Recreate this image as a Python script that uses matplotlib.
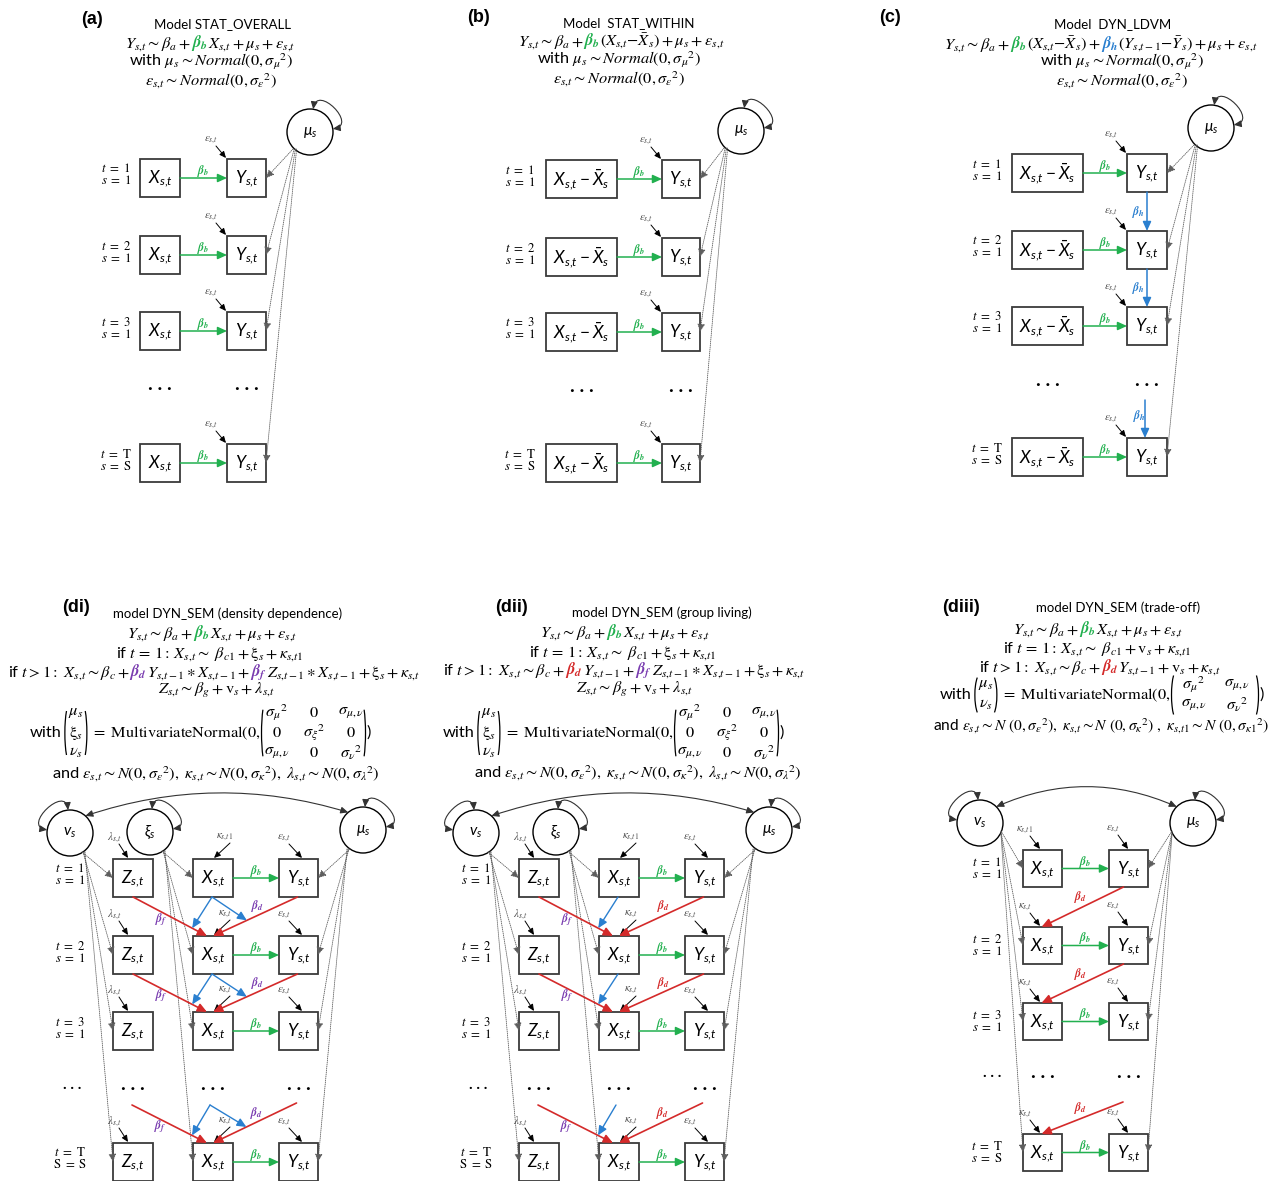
import math
import matplotlib
matplotlib.use("Agg")
import matplotlib.pyplot as plt
from matplotlib.patches import Rectangle, Circle, Arc, FancyArrowPatch
from matplotlib.path import Path

plt.rcParams["font.family"] = ["Lato", "DejaVu Sans"]
plt.rcParams["mathtext.fontset"] = "custom"
plt.rcParams["mathtext.rm"] = "Lato"
plt.rcParams["mathtext.it"] = "Lato:italic"
plt.rcParams["mathtext.bf"] = "Lato:bold"
plt.rcParams["mathtext.sf"] = "Lato"

# ---------------- text content ----------------
PANEL_TAGS = ["(a)", "(b)", "(c)", "(di)", "(dii)", "(diii)"]
MODEL_NAMES = ["Model STAT_OVERALL", "Model  STAT_WITHIN", "Model  DYN_LDVM",
               "model DYN_SEM (density dependence)", "model DYN_SEM (group living)",
               "model DYN_SEM (trade-off)"]
TIME_STEPS = ["1", "2", "3", "T"]
SITES = ["1", "1", "1", "S"]
SITES_SEM = ["1", "1", "1", "S"]

NODE_X = r"$X_{s{,}t}$"
NODE_XC = r"$X_{s{,}t} - \bar{X}_s$"
NODE_Y = r"$Y_{s{,}t}$"
NODE_Z = r"$Z_{s{,}t}$"
LAT_MU = r"$\mu_s$"
LAT_XI = r"$\xi_s$"
LAT_NU = r"$v_s$"
ERR_Y = r"$\varepsilon_{s{,}t}$"
ERR_X1 = r"$\kappa_{s{,}t1}$"
ERR_X = r"$\kappa_{s{,}t}$"
ERR_Z = r"$\lambda_{s{,}t}$"

B_B = r"$\mathbfit{\beta}_{\mathbfit{b}}$"
B_H = r"$\mathbfit{\beta}_{\mathbfit{h}}$"
B_D = r"$\mathbfit{\beta}_{\mathbfit{d}}$"
B_F = r"$\mathbfit{\beta}_{\mathbfit{f}}$"

K = "black"
GREEN = "#22b04f"
BLUE = "#2a7fcf"
RED = "#d42a2a"
PURPLE = "#7a3db0"
EDGE = "#3a3a3a"
GREY = "#505050"

Y_BASE = r"$Y_{s{,}t} \sim \beta_a + $"
NORM_MU = r"with $\mu_s{\sim}Normal(0, \sigma_{\mu}{}^{2})$"
NORM_EPS = r"$\varepsilon_{s{,}t}{\sim}Normal(0, \sigma_{\varepsilon}{}^{2})$"
EQ_A = [
    [(Y_BASE, K), (B_B, GREEN), (r"$X_{s{,}t} + \mu_s + \varepsilon_{s{,}t}$", K)],
    [(NORM_MU, K)],
    [(NORM_EPS, K)],
]
EQ_B = [
    [(Y_BASE, K), (B_B, GREEN), (r"$(X_{s{,}t}{-}\bar{X}_s) + \mu_s + \varepsilon_{s{,}t}$", K)],
    [(NORM_MU, K)],
    [(NORM_EPS, K)],
]
EQ_C = [
    [(Y_BASE, K), (B_B, GREEN), (r"$(X_{s{,}t}{-}\bar{X}_s) + $", K), (B_H, BLUE),
     (r"$(Y_{s{,}t-1}{-}\bar{Y}_s) + \mu_s + \varepsilon_{s{,}t}$", K)],
    [(NORM_MU, K)],
    [(NORM_EPS, K)],
]
EQ_Y = [(Y_BASE, K), (B_B, GREEN), (r"$X_{s{,}t} + \mu_s + \varepsilon_{s{,}t}$", K)]
EQ_DI = [
    EQ_Y,
    [(r"if $t\, =\, 1{:}\, X_{s{,}t}{\sim}\ \beta_{c1} + \mathrm{\xi}_s + \kappa_{s{,}t1}$", K)],
    [(r"if $t > 1{:}\ X_{s{,}t} \sim \beta_c + $", K), (B_D, PURPLE),
     (r"$Y_{s{,}t-1} \ast X_{s{,}t-1} + $", K), (B_F, PURPLE),
     (r"$Z_{s{,}t-1} \ast X_{s{,}t-1} + \mathrm{\xi}_s + \kappa_{s{,}t}$", K)],
    [(r"$Z_{s{,}t} \sim \beta_g + \mathrm{v}_s + \lambda_{s{,}t}$", K)],
]
EQ_DII = [
    EQ_Y,
    [(r"if $t\, =\, 1{:}\, X_{s{,}t}{\sim}\ \beta_{c1} + \mathrm{\xi}_s + \kappa_{s{,}t1}$", K)],
    [(r"if $t > 1{:}\ X_{s{,}t} \sim \beta_c + $", K), (B_D, RED),
     (r"$Y_{s{,}t-1} + $", K), (B_F, PURPLE),
     (r"$Z_{s{,}t-1} \ast X_{s{,}t-1} + \mathrm{\xi}_s + \kappa_{s{,}t}$", K)],
    [(r"$Z_{s{,}t} \sim \beta_g + \mathrm{v}_s + \lambda_{s{,}t}$", K)],
]
EQ_DIII = [
    EQ_Y,
    [(r"if $t\, =\, 1{:}\, X_{s{,}t}{\sim}\ \beta_{c1} + \mathrm{v}_s + \kappa_{s{,}t1}$", K)],
    [(r"if $t > 1{:}\ X_{s{,}t} \sim \beta_c + $", K), (B_D, RED),
     (r"$Y_{s{,}t-1} + \mathrm{v}_s + \kappa_{s{,}t}$", K)],
]
TAIL_DI = (r"and $\varepsilon_{s{,}t}{\sim}N(0, \sigma_{\varepsilon}{}^{2}),\ \kappa_{s{,}t}{\sim}N(0, "
           r"\sigma_{\kappa}{}^{2}),\ \lambda_{s{,}t}{\sim}N(0, \sigma_{\lambda}{}^{2})$")
TAIL_DIII = (r"and $\varepsilon_{s{,}t}{\sim}N\ (0, \sigma_{\varepsilon}{}^{2}),\ \kappa_{s{,}t}{\sim}N\ (0, "
             r"\sigma_{\kappa}{}^{2})\ ,\ \kappa_{s{,}t1}{\sim}N\ (0, \sigma_{\kappa 1}{}^{2})$")

VEC3 = [r"$\mu_s$", r"$\mathrm{\xi}_s$", r"$\nu_s$"]
MAT3 = [[r"$\sigma_{\mu}{}^{2}$", "$0$", r"$\sigma_{\mu,\nu}$"],
        ["$0$", r"$\sigma_{\xi}{}^{2}$", "$0$"],
        [r"$\sigma_{\mu,\nu}$", "$0$", r"$\sigma_{\nu}{}^{2}$"]]
VEC2 = [r"$\mu_s$", r"$\nu_s$"]
MAT2 = [[r"$\sigma_{\mu}{}^{2}$", r"$\sigma_{\mu,\nu}$"],
        [r"$\sigma_{\mu,\nu}$", r"$\sigma_{\nu}{}^{2}$"]]
MVN = r"$=\ \mathrm{MultivariateNormal}(0,$"

# ---------------- canvas ----------------
W, H = 1272, 1181
fig = plt.figure(figsize=(W / 100, H / 100), dpi=100)
ax = fig.add_axes([0, 0, 1, 1])
ax.set_xlim(0, W)
ax.set_ylim(H, 0)
ax.axis("off")
R = fig.canvas.get_renderer()

FS_EQ = 11.8
FS_TITLE = 9.5
FS_SMALL = 8
FS_BETA = 8.5
FS_ROW = 9.3


def txt(x, y, s, fs, color="k", ha="center", va="center", mf="custom", **kw):
    return ax.text(x, y, s, fontsize=fs, color=color, ha=ha, va=va,
                   math_fontfamily=mf, **kw)


def width(t):
    return t.get_window_extent(R).width


def rich(x, y, segs, fs=FS_EQ, align="center"):
    arts = [ax.text(0, y, s, fontsize=fs, color=c, ha="left", va="baseline",
                    math_fontfamily="stix") for s, c in segs]
    ws = [width(a) for a in arts]
    x0 = x - sum(ws) / 2 if align == "center" else x
    for a, w in zip(arts, ws):
        a.set_x(x0)
        x0 += w


def arrow(p0, p1, color="k", lw=0.9, ls="-", ms=10, hl=0.55, hw=0.25, style="-|>"):
    ax.add_patch(FancyArrowPatch(p0, p1, arrowstyle=f"{style},head_length={hl},head_width={hw}",
                                 mutation_scale=ms, color=color, lw=lw, linestyle=ls,
                                 shrinkA=0, shrinkB=0))


def dotted(p0, p1):
    arrow(p0, p1, color="#5e5e5e", lw=0.6, ls=(0, (1.0, 1.4)), ms=8, hl=0.6, hw=0.28)


def box(x0, x1, top, label, h=38, fs=12.5):
    ax.add_patch(Rectangle((x0, top), x1 - x0, h, fill=False, ec=EDGE, lw=1.3))
    txt((x0 + x1) / 2, top + h / 2 + 1, label, fs)


def latent(c, label, r=23):
    ax.add_patch(Circle(c, r, fill=False, ec="k", lw=1.0))
    txt(c[0], c[1], label, 11)


def on_circle(c, a, d):
    return (c[0] + d * math.cos(math.radians(a)), c[1] - d * math.sin(math.radians(a)))


def self_loop(c, a1, a2, r=23, k=26):
    p1, p2 = on_circle(c, a1, r), on_circle(c, a2, r)
    q1, q2 = on_circle(c, a1, r + k), on_circle(c, a2, r + k)
    path = Path([p1, q1, q2, p2], [Path.MOVETO, Path.CURVE4, Path.CURVE4, Path.CURVE4])
    ax.add_patch(FancyArrowPatch(path=path, arrowstyle="<|-|>,head_length=0.55,head_width=0.25",
                                 mutation_scale=8, color="#333333", lw=0.8))


def arc_link(p0, p1, rad):
    ax.add_patch(FancyArrowPatch(p0, p1, connectionstyle=f"arc3,rad={rad}",
                                 arrowstyle="<|-|>,head_length=0.55,head_width=0.25",
                                 mutation_scale=8, color="#333333", lw=0.8,
                                 shrinkA=0, shrinkB=0))


def small_label(x, y, s, tip, fs=FS_SMALL, color=GREY):
    txt(x, y, s, fs, color=color, mf="stix")
    arrow((x + 5, y + 6), tip, ms=7, lw=0.7)


def row_label(x, cy, t, s, sname="s"):
    txt(x, cy - 10, rf"$t\ =\ \mathrm{{{t}}}$", FS_ROW, mf="stix")
    lab = rf"$\mathrm{{S}}\ =\ \mathrm{{{s}}}$" if sname == "S" else rf"$s\ =\ \mathrm{{{s}}}$"
    txt(x, cy + 2, lab, FS_ROW, mf="stix")


def dots(x, y, fs=14):
    txt(x, y, ". . .", fs, fontweight="bold", mf="stix")


def lerp(p, q, f):
    return (p[0] + f * (q[0] - p[0]), p[1] + f * (q[1] - p[1]))


def paren(x, cy, h, side, w=11):
    if side == "l":
        ax.add_patch(Arc((x + w / 2, cy), w, h, theta1=100, theta2=260, lw=0.9, color="k"))
    else:
        ax.add_patch(Arc((x - w / 2, cy), w, h, theta1=-80, theta2=80, lw=0.9, color="k"))


def matrix_line(x, cy, vec, mat, col_sp, edge, fs=FS_EQ):
    t = txt(x, cy, "with", fs, ha="left", mf="stix")
    x += width(t) + 3
    n = len(vec)
    row_sp = 20
    hv = row_sp * (n - 1) + 22
    paren(x, cy, hv, "l")
    vx = x + 11
    for i, v in enumerate(vec):
        txt(vx, cy + (i - (n - 1) / 2) * row_sp, v, fs, mf="stix")
    x = vx + 11
    paren(x, cy, hv, "r")
    x += 4
    t = txt(x, cy, MVN, fs, ha="left", mf="stix")
    x += width(t) + 1
    hm = row_sp * (n - 1) + 30
    paren(x, cy, hm, "l")
    for i, row in enumerate(mat):
        for j, e in enumerate(row):
            txt(x + edge + j * col_sp, cy + (i - (n - 1) / 2) * row_sp, e, fs, mf="stix")
    x += 2 * edge + (len(mat[0]) - 1) * col_sp
    paren(x, cy, hm, "r")
    txt(x + 1, cy, ")", fs, ha="left", mf="stix")


def fitted_line(x, y, s, fs, right):
    # left-aligned line, shrunk just enough to end before `right`
    t = txt(x, y, s, fs, ha="left", va="baseline", mf="stix")
    w = width(t)
    if x + w > right:
        t.set_fontsize(fs * (right - x) / w)


# ---------------- header blocks ----------------
def header(tag, tag_xy, title, title_xy, lines):
    txt(tag_xy[0], tag_xy[1], tag, 13, fontweight="bold", family="Liberation Sans")
    txt(title_xy[0], title_xy[1], title, FS_TITLE, va="baseline")
    for (cx, by), segs in lines:
        rich(cx, by, segs)


header(PANEL_TAGS[0], (92, 20), MODEL_NAMES[0], (222, 28),
       list(zip([(210, 47), (211, 66), (211, 85)], EQ_A)))
header(PANEL_TAGS[1], (478, 18), MODEL_NAMES[1], (629, 27),
       list(zip([(621, 45), (619, 64), (619, 83)], EQ_B)))
header(PANEL_TAGS[2], (890, 18), MODEL_NAMES[2], (1113, 28),
       list(zip([(1101, 48), (1122, 66), (1122, 85)], EQ_C)))

header(PANEL_TAGS[3], (76, 607), MODEL_NAMES[3], (228, 618),
       list(zip([(212, 637), (210, 657), (214, 676), (216, 694)], EQ_DI)))
matrix_line(30, 733, VEC3, MAT3, 37, 15)
txt(216, 778, TAIL_DI, FS_EQ, va="baseline", mf="stix")

header(PANEL_TAGS[4], (511, 607), MODEL_NAMES[4], (662, 617),
       list(zip([(625, 636), (623, 656), (624, 674), (634, 693)], EQ_DII)))
matrix_line(443, 733, VEC3, MAT3, 37, 15)
txt(638, 777, TAIL_DI, FS_EQ, va="baseline", mf="stix")

header(PANEL_TAGS[5], (961, 608), MODEL_NAMES[5], (1118, 612),
       list(zip([(1098, 633), (1097, 652), (1100, 671)], EQ_DIII)))
matrix_line(940, 695, VEC2, MAT2, 43, 22)
fitted_line(933, 730, TAIL_DIII, FS_EQ, W - 3)


# ---------------- static / LDV panels ----------------
def stat_panel(xb, yb, tops, mu, t_x, xlabel, dots_y, lag=False, h=38):
    latent(mu, LAT_MU)
    self_loop(mu, 82, 8)
    ycx = (yb[0] + yb[1]) / 2
    for i, top in enumerate(tops):
        cy = top + h / 2
        box(xb[0], xb[1], top, xlabel, h)
        box(yb[0], yb[1], top, NODE_Y, h)
        arrow((xb[1], cy), (yb[0], cy), color=GREEN, lw=1.1)
        txt((xb[1] + yb[0]) / 2, cy - 7, B_B, FS_BETA, color=GREEN, mf="stix")
        small_label(yb[0] - 16, top - 19, ERR_Y, (yb[0] - 1, top - 1))
        row_label(t_x, cy, TIME_STEPS[i], SITES[i])
        dotted((mu[0] - 17 + 1.2 * i, mu[1] + 17), (yb[1], cy))
    dots((xb[0] + xb[1]) / 2, dots_y)
    dots(ycx, dots_y)
    if lag:
        for i in range(2):
            arrow((ycx, tops[i] + h), (ycx, tops[i + 1]), color=BLUE, lw=1.1)
            txt(ycx - 8, (tops[i] + h + tops[i + 1]) / 2, B_H, FS_BETA, color=BLUE, mf="stix")
        arrow((ycx - 2, dots_y + 20), (ycx - 2, tops[3]), color=BLUE, lw=1.1)
        txt(ycx - 7, dots_y + 36, B_H, FS_BETA, color=BLUE, mf="stix")


stat_panel((140, 180), (227, 266), [159, 236, 312, 444], (310, 132), 116, NODE_X, 385)
stat_panel((546, 617), (662, 700), [160, 238, 313, 444], (741, 131), 520, NODE_XC, 386)
stat_panel((1012, 1083), (1127, 1167), [154, 231, 307, 438], (1211, 128), 987, NODE_XC, 380, lag=True)


# ---------------- DYN_SEM panels (density dependence / group living) ----------------
def sem_panel(ox, both_blue, bd_color):
    r = 23
    nu, xi, mu = (70 + ox, 833), (150 + ox, 832), (363 + ox, 830)
    zb, xb, yb = (113 + ox, 153 + ox), (193 + ox, 233 + ox), (279 + ox, 318 + ox)
    tops = [859, 936, 1012, 1143]
    h = 38
    zc, xc, yc = sum(zb) / 2, sum(xb) / 2, sum(yb) / 2
    for c, lab in ((nu, LAT_NU), (xi, LAT_XI), (mu, LAT_MU)):
        latent(c, lab)
    self_loop(nu, 172, 95)
    self_loop(xi, 85, 8)
    self_loop(mu, 85, 8)
    arc_link(on_circle(nu, 48, r), on_circle(mu, 130, r), -0.16)
    for i, top in enumerate(tops):
        cy = top + h / 2
        box(zb[0], zb[1], top, NODE_Z, h)
        box(xb[0], xb[1], top, NODE_X, h)
        box(yb[0], yb[1], top, NODE_Y, h)
        arrow((xb[1], cy), (yb[0], cy), color=GREEN, lw=1.1)
        txt((xb[1] + yb[0]) / 2, cy - 7, B_B, FS_BETA, color=GREEN, mf="stix")
        small_label(zb[0] + 1, top - 21, ERR_Z, (zb[0] + 15, top - 1))
        small_label(xc + 12, top - 22, ERR_X1 if i == 0 else ERR_X, (xc + 1, top - 1))
        small_label(yb[0] + 5, top - 21, ERR_Y, (yb[0] + 23, top - 1))
        row_label(nu[0], cy, TIME_STEPS[i], SITES_SEM[i], "S" if i == 3 else "s")
        dotted((nu[0] + 12 + 1.0 * i, nu[1] + 19), (zb[0], cy))
        dotted((xi[0] + 12 + 1.0 * i, xi[1] + 19), (xb[0], cy))
        dotted((mu[0] - 13 - 1.0 * i, mu[1] + 19), (yb[1], cy))
    dots(nu[0] + 2, 1085, 11)
    for x in (zc, xc, yc):
        dots(x, 1085)
    starts = [((zc, tops[0] + h), (yc - 1, tops[0] + h), (xc - 1, tops[0] + h)),
              ((zc, tops[1] + h), (yc - 1, tops[1] + h), (xc - 1, tops[1] + h)),
              ((zc - 1, 1105), (yc - 2, 1103), (xc - 3, 1105))]
    targets = [tops[1], tops[2], tops[3]]
    for (zs, ys, xs), tgt in zip(starts, targets):
        d1, d2 = (xc - 6, tgt), (xc, tgt)
        arrow(zs, d1, color=RED, lw=1.2)
        arrow(ys, d2, color=RED, lw=1.2)
        arrow(xs, lerp(zs, d1, 0.8), color=BLUE, lw=1.0)
        if both_blue:
            arrow(xs, lerp(ys, d2, 0.6), color=BLUE, lw=1.0)
        pf = lerp(zs, d1, 0.45)
        txt(pf[0] - 5, pf[1] + 5, B_F, FS_BETA, color=PURPLE, mf="stix")
        pd = lerp(ys, d2, 0.5)
        txt(pd[0] + 2, pd[1] - 10, B_D, FS_BETA, color=bd_color, mf="stix")


sem_panel(0, True, PURPLE)
sem_panel(406, False, RED)


# ---------------- DYN_SEM trade-off panel ----------------
def tradeoff_panel():
    r = 23
    nu, mu = (980, 823), (1193, 823)
    xb, yb = (1023, 1062), (1109, 1148)
    tops = [850, 927, 1003, 1134]
    h = 37
    xc, yc = sum(xb) / 2, sum(yb) / 2
    latent(nu, LAT_NU)
    latent(mu, LAT_MU)
    self_loop(nu, 172, 95)
    self_loop(mu, 85, 8)
    arc_link(on_circle(nu, 45, r), on_circle(mu, 135, r), -0.22)
    for i, top in enumerate(tops):
        cy = top + h / 2
        box(xb[0], xb[1], top, NODE_X, h)
        box(yb[0], yb[1], top, NODE_Y, h)
        arrow((xb[1], cy), (yb[0], cy), color=GREEN, lw=1.1)
        txt((xb[1] + yb[0]) / 2, cy - 7, B_B, FS_BETA, color=GREEN, mf="stix")
        small_label(xb[0] + 2, top - 20, ERR_X1 if i == 0 else ERR_X, (xb[0] + 17, top - 1))
        small_label(yb[0] + 4, top - 21, ERR_Y, (yb[0] + 19, top - 1))
        row_label(987, cy + 3, TIME_STEPS[i], SITES[i])
        dotted((nu[0] + 21, nu[1] + 8 + 1.2 * i), (xb[0], cy))
        dotted((mu[0] - 21, mu[1] + 8 + 1.2 * i), (yb[1], cy))
    dots(992, 1073, 11)
    dots(xc, 1073)
    dots(yc, 1073)
    starts = [(yc - 5, tops[0] + h), (yc - 5, tops[1] + h), (1123, 1102)]
    for s, tgt in zip(starts, tops[1:]):
        d = (xc - 1, tgt)
        arrow(s, d, color=RED, lw=1.2)
        p = lerp(s, d, 0.5)
        txt(p[0] - 2, p[1] - 10, B_D, FS_BETA, color=RED, mf="stix")


tradeoff_panel()

fig.savefig("out.png", dpi=100)
